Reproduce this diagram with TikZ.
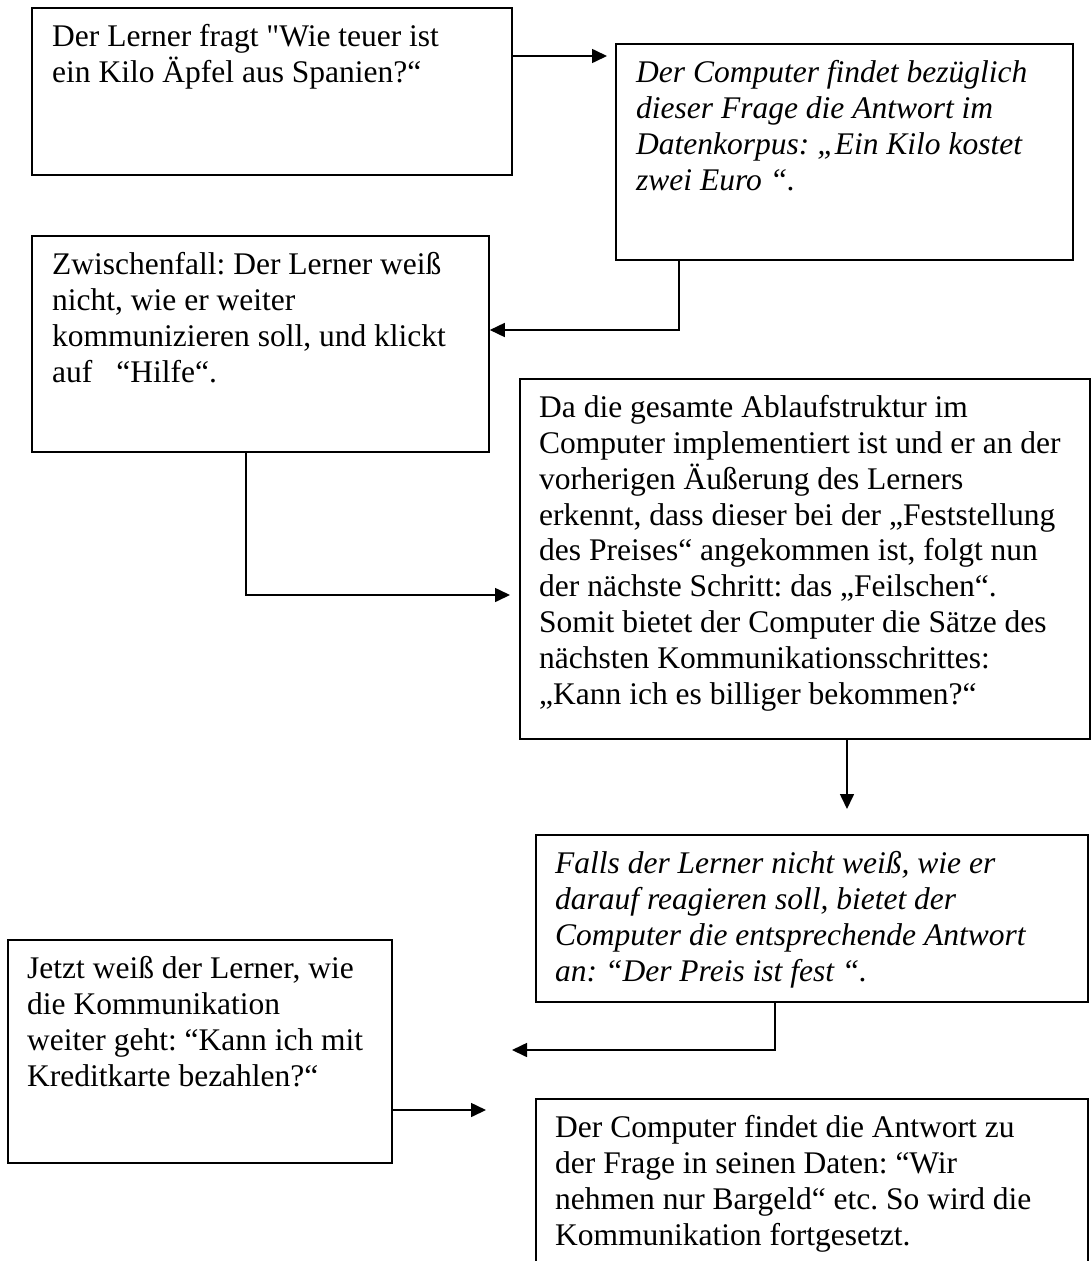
\documentclass[tikz,border=0pt]{standalone}
\usepackage{fontspec}
\setmainfont{Liberation Serif}
\usetikzlibrary{arrows.meta}
\newcommand{\lnstrut}{\rule{0pt}{30pt}}
\frenchspacing
\begin{document}
\begin{tikzpicture}[x=1pt, y=-1pt,
  box/.style={draw, line width=1.8pt, inner sep=0, anchor=north west},
  txt/.style={inner sep=0, anchor=north west, align=left,
    font=\fontsize{31.5}{35.8}\selectfont},
  itxt/.style={txt, font=\fontsize{31.5}{35.8}\selectfont\itshape},
  arr/.style={line width=1.6pt, -{Triangle[length=15pt, width=14pt]}}]
\clip (0,0) rectangle (1091,1261);
\fill[white] (0,0) rectangle (1091,1261);

% boxes
\node[box, minimum width=480, minimum height=167] (A) at (31,7) {};
\node[box, minimum width=457, minimum height=216] (B) at (615,43) {};
\node[box, minimum width=457, minimum height=216] (C) at (31,235) {};
\node[box, minimum width=570, minimum height=360] (D) at (519,378) {};
\node[box, minimum width=552, minimum height=167] (E) at (535,834) {};
\node[box, minimum width=384, minimum height=223] (F) at (7,939) {};
\node[box, minimum width=552, minimum height=180] (G) at (535,1098) {};

% texts
\node[txt] (At) at ([shift={(21,9.5)}]A.north west)
  {\lnstrut Der Lerner fragt \textquotedbl Wie teuer ist\\ein Kilo Äpfel aus Spanien?“};
\node[itxt] (Bt) at ([shift={(21,9.5)}]B.north west)
  {\lnstrut Der Computer findet bezüglich\\dieser Frage die Antwort im\\Datenkorpus: „Ein Kilo kostet\\zwei Euro “.};
\node[txt] (Ct) at ([shift={(21,9.5)}]C.north west)
  {\lnstrut Zwischenfall: Der Lerner weiß\\nicht, wie er weiter\\kommunizieren soll, und klickt\\auf\hspace{24pt}“Hilfe“.};
\node[txt] (Dt) at ([shift={(20,9.5)}]D.north west)
  {\lnstrut Da die gesamte Ablaufstruktur im\\Computer implementiert ist und er an der\\vorherigen Äußerung des Lerners\\erkennt, dass dieser bei der „Feststellung\\des Preises“ angekommen ist, folgt nun\\der nächste Schritt: das „Feilschen“.\\Somit bietet der Computer die Sätze des\\nächsten Kommunikationsschrittes:\\„Kann ich es billiger bekommen?“};
\node[itxt] (Et) at ([shift={(20,9.5)}]E.north west)
  {\lnstrut Falls der Lerner nicht weiß, wie er\\darauf reagieren soll, bietet der\\Computer die entsprechende Antwort\\an: “Der Preis ist fest “.};
\node[txt] (Ft) at ([shift={(20,9.5)}]F.north west)
  {\lnstrut Jetzt weiß der Lerner, wie\\die Kommunikation\\weiter geht: “Kann ich mit\\Kreditkarte bezahlen?“};
\node[txt] (Gt) at ([shift={(20,9.5)}]G.north west)
  {\lnstrut Der Computer findet die Antwort zu\\der Frage in seinen Daten: “Wir\\nehmen nur Bargeld“ etc. So wird die\\Kommunikation fortgesetzt.};

% connectors
\coordinate (efend) at (512,1050);
\draw[arr, shorten >=8pt] ([yshift=-49]A.north east) -- ([yshift=-13]B.north west);
\draw[arr] ([xshift=64]B.south west) |- ([yshift=-95]C.north east);
\draw[arr, shorten >=9pt] ([xshift=215]C.south west) |- ([yshift=-217]D.north west);
\draw[arr, shorten >=25pt] ([xshift=328]D.south west) -- ([xshift=312]E.north west);
\draw[arr] ([xshift=240]E.south west) |- (efend);
\draw[arr, shorten >=49pt] ([yshift=-171]F.north east) -- ([yshift=-12]G.north west);
\end{tikzpicture}
\end{document}
